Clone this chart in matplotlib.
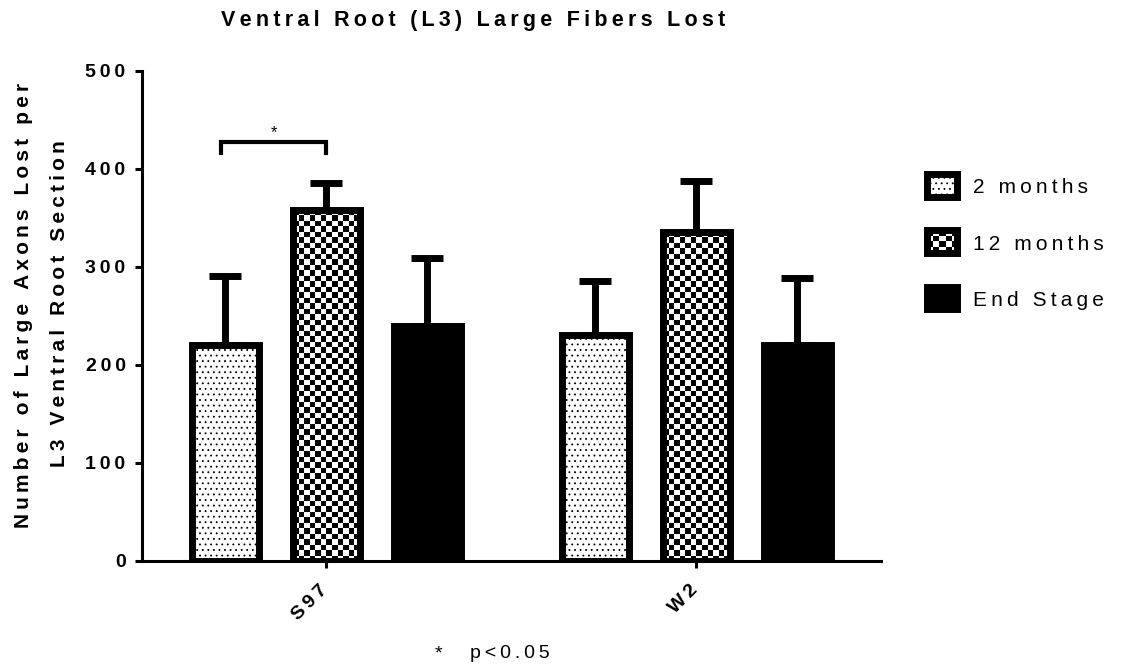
import numpy as np
import matplotlib
matplotlib.use('Agg')
import matplotlib.pyplot as plt
from matplotlib.patches import Rectangle
from matplotlib.transforms import ScaledTranslation

plt.rcParams['font.family'] = ['Liberation Sans', 'DejaVu Sans']
plt.rcParams['hatch.linewidth'] = 0.6

# данные
groups = ['S97', 'W2']
series = ['2 months', '12 months', 'End Stage']
mean_2m = [220, 230]
sem_2m = [71, 55]
mean_12m = [358, 335]
sem_12m = [27, 52]
mean_end = [240, 220]
sem_end = [69, 68]
y_ticks = [0, 100, 200, 300, 400, 500]

title = 'Ventral Root (L3) Large Fibers Lost'
ylabel_lines = ['Number of Large Axons Lost per', 'L3 Ventral Root Section']
footnote = 'p<0.05'


def spaced(s):
    # имитация разрядки букв как в GraphPad (тонкий пробел между символами)
    return '\u2009'.join(s)


def fill_checker(ax, patch, cell=5.5, zorder=3.1):
    x0, y0 = patch.get_x(), patch.get_y()
    w, h = patch.get_width(), patch.get_height()
    (px0, py0), (px1, py1) = ax.transData.transform([(x0, y0), (x0 + w, y0 + h)])
    nc = max(1, int(round(abs(px1 - px0) / cell)))
    nr = max(1, int(round(abs(py1 - py0) / cell)))
    grid = np.indices((nr, nc)).sum(axis=0) % 2
    im = ax.imshow(grid, cmap='gray', vmin=0, vmax=1, extent=(x0, x0 + w, y0, y0 + h),
                   interpolation='nearest', aspect='auto', zorder=zorder)
    im.set_clip_path(patch)
    return im


W, H = 1123, 665
fig = plt.figure(figsize=(W / 100, H / 100), dpi=100)
ax = fig.add_axes([141.5 / W, 1 - 560.7 / H, (881 - 141.5) / W, (560.7 - 70.7) / H])
ax.set_xlim(-0.5, 1.5)
ax.set_ylim(0, 500)

x = np.arange(len(groups))
offsets = [-0.273, 0.0, 0.273]
width = 0.181
lw = 5

means = [mean_2m, mean_12m, mean_end]
sems = [sem_2m, sem_12m, sem_end]

for i, (m, s) in enumerate(zip(means, sems)):
    ax.errorbar(x + offsets[i], m, yerr=[np.zeros(len(m)), s], fmt='none', ecolor='black',
                elinewidth=lw, capsize=11.5, capthick=lw, zorder=2)

# 2 месяца - точки
ax.bar(x + offsets[0], mean_2m, width, facecolor='white', edgecolor='black', linewidth=lw,
       hatch='...', zorder=3)
# 12 месяцев - шахматка
bars12 = ax.bar(x + offsets[1], mean_12m, width, facecolor='white', edgecolor='none', zorder=3)
for b in bars12:
    fill_checker(ax, b)
ax.bar(x + offsets[1], mean_12m, width, facecolor='none', edgecolor='black', linewidth=lw, zorder=3.2)
# конечная стадия - черный
ax.bar(x + offsets[2], mean_end, width, facecolor='black', edgecolor='black', linewidth=lw, zorder=3)

ax.set_xlim(-0.5, 1.5)
ax.set_ylim(0, 500)

# скобка значимости
sig_y = 427
x_l, x_r = x[0] + offsets[0] - 0.011, x[0] + offsets[1]
ax.plot([x_l, x_l, x_r, x_r], [sig_y - 11, sig_y, sig_y, sig_y - 11], color='black', lw=3,
        solid_joinstyle='miter', clip_on=False, zorder=4)
ax.text((x_l + x_r) / 2, sig_y + 2, '*', ha='center', va='bottom', fontsize=12)

for side in ['top', 'right']:
    ax.spines[side].set_visible(False)
for side in ['left', 'bottom']:
    ax.spines[side].set_linewidth(2.2)

ax.set_yticks(y_ticks)
ax.set_yticklabels([spaced(str(t)) for t in y_ticks], fontsize=14, fontweight='bold')
ax.set_xticks(x)
ax.set_xticklabels([spaced(g) for g in groups], fontsize=14, fontweight='bold', rotation=45,
                   ha='right', va='baseline', rotation_mode='anchor')
ax.tick_params(axis='both', length=5, width=2.2, color='black')
ax.tick_params(axis='y', pad=6.5)
ax.tick_params(axis='x', pad=0)
shift = ScaledTranslation(0.02, -0.23, fig.dpi_scale_trans)
for lab in ax.get_xticklabels():
    lab.set_transform(lab.get_transform() + shift)

fig.text(473 / W, 1 - 26 / H, spaced(title), ha='center', va='baseline', fontsize=15.5,
         fontweight='bold')
fig.text(24 / W, 1 - 305 / H, spaced(ylabel_lines[0]), rotation=90, ha='center', va='center',
         fontsize=15, fontweight='bold')
fig.text(60 / W, 1 - 304 / H, spaced(ylabel_lines[1]), rotation=90, ha='center', va='center',
         fontsize=15, fontweight='bold')

fig.text(438 / W, 7 / H, '*', ha='center', va='baseline', fontsize=14)
fig.text(470 / W, 7 / H, spaced(footnote), ha='left', va='baseline', fontsize=14)

# легенда вручную
box_tops = [173.5, 230.2, 286.5]
for i, name in enumerate(series):
    top = box_tops[i]
    sw = fig.add_axes([926.5 / W, 1 - (top + 23) / H, 30 / W, 23 / H])
    sw.set_xlim(0, 1)
    sw.set_ylim(0, 1)
    sw.axis('off')
    if i == 0:
        r = Rectangle((0, 0), 1, 1, facecolor='white', edgecolor='black', linewidth=lw,
                      hatch='...', clip_on=False)
        sw.add_patch(r)
    elif i == 1:
        r = Rectangle((0, 0), 1, 1, facecolor='white', edgecolor='none', clip_on=False)
        sw.add_patch(r)
        fill_checker(sw, r, zorder=2)
        sw.add_patch(Rectangle((0, 0), 1, 1, facecolor='none', edgecolor='black', linewidth=lw,
                               clip_on=False, zorder=3))
        sw.set_xlim(0, 1)
        sw.set_ylim(0, 1)
    else:
        sw.add_patch(Rectangle((0, 0), 1, 1, facecolor='black', edgecolor='black', linewidth=lw,
                               clip_on=False))
    fig.text(972.7 / W, 1 - (top + 11.5 + 1) / H, spaced(name), ha='left', va='center_baseline',
             fontsize=15)

fig.savefig('out.png', dpi=100)
plt.close(fig)
